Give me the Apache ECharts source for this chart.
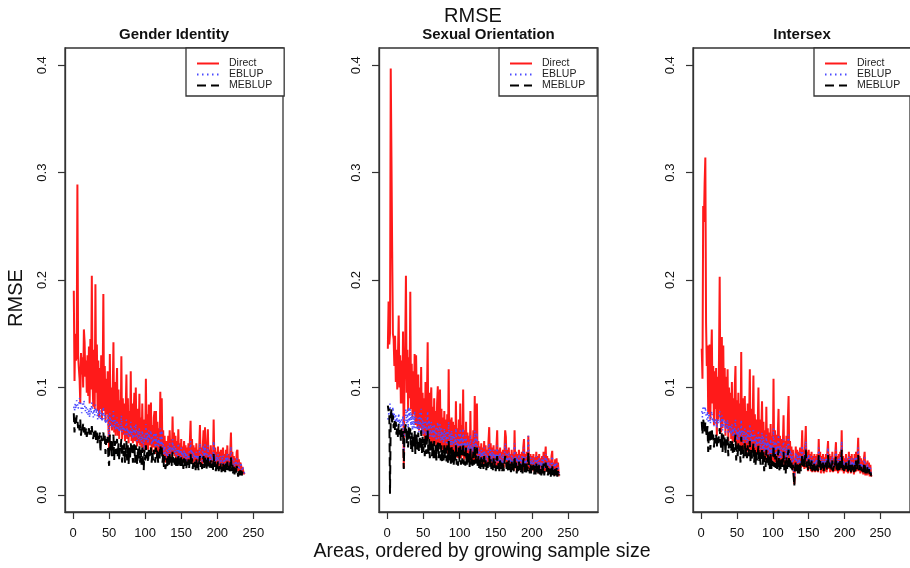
<!DOCTYPE html>
<html><head><meta charset="utf-8">
<script src="https://cdn.jsdelivr.net/npm/echarts@6/dist/echarts.min.js"></script>
<style>html,body{margin:0;padding:0;background:#fff}#c{width:910px;height:568px}</style>
</head><body><div id="c"></div>
<script>
// Areas 1..238, ordered by growing sample size
const areaCount = 238;
const areas = Array.from({length: areaCount}, (_, k) => k + 1);
const panelTitles = ['Gender Identity', 'Sexual Orientation', 'Intersex'];
const seriesNames = ['Direct', 'EBLUP', 'MEBLUP'];
const xTicks = [0, 50, 100, 150, 200, 250];
const yTicks = [0, 0.1, 0.2, 0.3, 0.4];

// RMSE values in thousandths
const giDirect = [
190,106,150,125,130,289,130,118,108,85,132,112,128,100,154,142,110,125,95,130,
92,138,85,145,98,204,105,82,135,80,196,95,140,78,125,72,118,80,130,70,
100,187,78,120,68,108,75,115,65,40,131,64,100,60,95,142,58,105,55,92,
118,55,98,52,88,60,129,52,90,56,85,50,80,112,52,90,48,78,54,115,
50,85,48,75,95,50,100,52,45,80,48,94,46,72,44,85,46,40,70,45,
108,44,75,42,84,46,70,86,40,65,44,72,78,38,78,42,68,40,62,40,
96,42,90,40,60,36,55,30,34,50,32,55,36,60,38,52,34,73,38,58,
36,55,33,50,32,61,35,48,30,52,33,45,30,50,32,46,29,44,31,48,
30,50,69,33,52,29,46,31,44,28,48,30,42,28,45,65,31,44,28,46,
60,30,63,33,28,45,61,29,42,27,46,30,40,27,70,31,44,26,40,29,
45,26,40,28,42,25,38,44,26,38,25,42,28,46,25,38,25,40,58,27,
40,25,36,24,34,25,40,42,22,33,22,30,28,20,26,22,20,19];
const giEblup = [
82,78,85,80,88,86,80,84,90,91,82,76,85,80,88,84,78,82,76,80,
74,80,72,82,76,86,78,72,80,74,84,76,80,70,78,72,80,70,78,68,
74,82,70,76,66,72,68,74,64,50,76,66,70,62,68,78,62,70,60,66,
72,60,66,58,64,60,74,58,64,60,62,56,62,70,56,62,54,60,56,68,
55,62,52,58,64,54,66,56,50,60,52,62,50,56,48,60,52,42,56,50,
66,50,58,48,60,52,56,60,46,54,48,56,58,44,58,46,54,45,52,44,
62,46,60,44,48,38,46,34,36,42,34,46,38,48,40,44,36,52,40,46,
38,44,36,42,34,48,38,42,33,44,36,40,32,42,34,40,31,38,34,40,
33,42,50,36,42,32,40,34,38,31,40,33,37,30,38,48,34,38,31,40,
46,33,47,36,31,38,46,32,37,30,39,33,36,29,50,34,38,30,36,32,
38,29,35,31,36,28,34,37,29,34,28,36,31,38,29,33,28,35,45,30,
34,28,32,26,30,28,34,35,25,30,24,28,30,23,26,24,21,20];
const giMeblup = [
76,58,72,66,74,70,62,66,60,70,55,64,60,66,58,63,56,62,54,60,
58,62,54,60,56,64,55,52,60,54,62,50,58,48,56,52,58,40,55,50,
54,58,50,55,38,52,48,54,34,27,56,40,50,36,48,56,32,50,38,48,
52,36,48,32,46,44,52,30,46,36,48,30,44,50,32,46,28,44,34,48,
40,46,30,42,48,30,46,36,28,44,32,46,30,42,28,44,32,23,42,32,
46,34,42,30,44,36,42,44,30,40,32,42,43,30,44,34,42,30,40,33,
46,38,44,30,38,26,36,24,28,34,25,36,28,38,30,35,27,40,30,36,
28,35,27,34,25,38,28,34,25,35,27,33,24,34,26,33,24,31,26,33,
25,34,38,27,34,24,32,26,31,23,33,25,30,23,31,36,26,31,24,33,
36,25,36,27,23,31,36,24,30,23,32,25,29,22,38,26,31,22,29,24,
31,22,29,24,29,21,28,30,22,28,21,29,23,31,22,27,20,28,35,22,
28,20,26,19,25,20,27,28,17,24,18,23,25,18,22,19,18,19];

const soDirect = [
136,180,140,150,397,314,226,150,145,120,148,105,135,98,130,167,100,130,85,125,
85,152,25,105,140,204,95,135,78,128,90,189,80,122,72,115,75,131,65,130,
90,62,112,60,100,62,119,58,95,55,90,52,105,50,88,142,52,95,48,85,
100,48,82,46,90,48,78,45,85,101,44,75,98,42,80,42,72,40,78,42,
70,40,75,38,117,40,70,38,72,38,68,36,65,36,87,35,62,34,70,36,
85,34,65,36,98,33,60,34,68,32,58,34,55,30,78,33,52,30,60,32,
92,34,56,85,30,50,28,45,26,48,28,44,27,50,29,46,26,42,28,50,
63,28,48,27,44,26,46,27,42,25,45,60,26,42,24,44,25,40,24,42,
25,40,60,54,26,42,24,44,25,38,23,42,25,38,23,60,25,40,22,38,
24,42,23,38,23,40,22,44,52,23,38,22,40,24,55,28,22,38,21,36,
23,38,22,35,21,40,23,36,20,38,22,34,20,36,21,40,21,35,45,22,
36,21,34,22,32,20,36,41,19,30,20,33,18,34,19,30,18,18];
const soEblup = [
70,74,80,85,72,78,68,82,70,76,66,74,68,72,64,76,66,70,62,72,
64,74,40,66,72,80,66,78,62,82,68,80,64,76,60,74,62,78,58,72,
66,60,72,58,76,62,80,58,70,56,68,58,72,55,66,78,56,70,54,64,
68,54,64,52,66,54,62,50,64,68,52,60,66,50,62,50,58,48,62,52,
58,48,60,46,68,48,58,46,60,46,56,44,54,46,62,44,52,42,58,46,
60,42,54,44,62,42,52,40,56,40,50,42,48,38,56,40,46,38,50,40,
60,40,48,58,36,44,32,40,30,42,33,40,31,44,34,40,30,38,33,44,
48,33,42,31,40,30,42,32,38,29,40,46,31,38,28,40,30,36,28,38,
29,36,48,44,31,38,28,40,29,35,27,38,30,35,28,48,30,36,26,35,
29,38,27,35,28,36,26,40,44,28,35,26,36,29,55,33,27,35,25,33,
28,34,26,32,25,36,28,33,24,34,26,31,24,33,26,36,25,32,38,28,
33,24,31,26,29,23,32,36,22,28,23,30,21,31,22,27,21,20];
const soMeblup = [
83,78,80,1,72,80,66,74,62,70,60,68,56,64,54,66,56,62,50,62,
54,60,24,56,62,66,48,60,44,64,52,62,42,58,40,56,44,60,38,56,
52,42,58,40,55,42,60,38,54,40,52,36,56,38,50,60,36,52,34,48,
52,36,48,34,50,34,46,32,48,50,34,44,48,32,46,30,42,32,46,34,
44,31,46,30,50,32,44,29,46,30,42,28,40,30,46,28,40,27,44,30,
46,28,42,29,48,28,40,27,44,27,40,28,38,26,44,28,36,27,40,28,
46,29,38,44,27,36,25,34,24,35,26,33,24,36,26,32,23,31,25,34,
36,25,33,24,32,23,34,25,31,22,33,36,24,31,22,32,23,30,22,31,
22,30,36,34,24,31,22,32,23,29,21,31,23,29,21,36,23,30,20,29,
22,31,21,29,21,30,20,32,34,21,29,20,30,22,40,25,20,29,19,27,
21,28,19,27,19,29,21,27,18,28,19,26,18,27,19,29,18,26,30,21,
27,18,25,19,24,17,26,28,17,23,17,24,16,25,17,22,17,19];

const isDirect = [
136,108,269,254,290,314,160,120,139,75,130,140,70,125,154,85,120,65,115,80,
118,55,110,70,125,203,80,58,147,62,139,70,118,55,110,62,117,50,100,58,
95,52,105,48,90,50,100,120,46,88,45,95,48,85,42,133,45,90,42,80,
92,42,78,40,85,42,72,117,38,80,40,70,111,38,75,36,70,38,65,100,
38,70,36,62,87,35,68,34,60,32,82,35,62,32,58,30,66,30,55,32,
108,30,60,30,56,28,58,80,28,55,27,52,30,48,74,27,50,26,55,28,
70,92,30,50,27,45,25,42,22,10,28,45,25,42,24,40,22,44,25,40,
60,26,42,24,46,64,25,40,22,42,24,38,22,40,21,36,22,38,21,36,
22,38,21,52,25,40,20,36,22,38,20,35,22,38,21,40,50,24,38,21,
36,22,40,21,34,22,38,49,22,36,20,38,22,40,24,60,22,36,20,34,
22,38,21,34,20,40,22,36,20,38,22,34,19,38,21,40,22,36,53,22,
36,20,34,21,32,19,34,40,18,30,18,32,19,30,17,28,18,17];
const isEblup = [
78,72,83,80,76,82,74,70,78,68,76,72,66,74,78,68,72,64,70,66,
72,62,70,66,72,78,66,62,74,60,72,64,70,58,68,62,70,58,64,60,
64,56,66,55,62,54,64,70,52,60,50,62,54,60,50,70,52,60,48,58,
62,50,58,48,60,50,56,66,46,58,48,54,62,46,56,44,54,46,52,60,
44,54,42,50,58,42,54,40,50,38,56,42,50,38,48,36,52,36,46,38,
62,38,50,36,48,35,48,56,34,46,33,44,36,42,52,33,42,31,46,34,
50,56,36,42,33,39,30,36,26,14,33,40,30,38,28,36,27,40,30,36,
46,31,38,29,40,50,30,36,27,38,29,34,27,36,25,33,27,34,25,33,
27,34,26,44,30,36,25,33,27,34,25,32,27,34,25,36,44,29,34,26,
32,27,36,26,31,27,34,42,27,33,25,34,27,36,29,50,27,32,25,31,
27,34,25,31,24,36,27,32,24,34,27,31,24,34,25,36,27,32,44,27,
32,25,30,25,29,24,31,35,22,27,22,29,23,27,20,25,19,18];
const isMeblup = [
68,56,70,66,58,68,60,54,64,40,60,56,42,58,62,50,56,44,54,48,
56,44,54,48,56,62,50,44,58,40,56,46,54,38,52,46,54,36,48,44,
50,40,52,38,48,40,50,56,32,46,36,48,40,46,30,54,38,46,34,44,
48,36,44,34,46,36,42,50,30,44,34,40,48,30,42,28,40,32,38,46,
30,40,28,36,44,28,40,22,36,26,42,30,38,26,36,24,40,24,34,27,
46,26,38,25,36,24,36,42,22,34,23,33,26,31,40,23,32,20,35,24,
38,42,26,32,24,30,21,28,18,8,25,31,22,29,20,28,19,31,22,28,
38,27,33,25,35,42,26,32,23,33,25,30,23,32,22,29,23,30,22,29,
23,30,22,37,26,32,21,29,23,30,22,28,24,30,22,32,37,25,30,23,
28,23,32,22,27,24,30,36,23,29,21,30,23,32,25,42,23,28,21,27,
23,30,22,27,21,32,23,28,21,30,23,27,21,30,22,32,23,28,37,23,
28,22,26,22,25,21,27,30,20,24,20,26,21,24,19,22,18,18];

const panelData = [
  [giDirect, giEblup, giMeblup],
  [soDirect, soEblup, soMeblup],
  [isDirect, isEblup, isMeblup]
];

const FONT = '"Liberation Sans", Arial, Helvetica, sans-serif';
const gridLefts = [65, 379, 693];
const gridWidths = [218, 219, 218];
const legendLefts = [186, 499, 814];
const titleCenters = [174, 488.5, 802];

const styles = [
  {color: '#ff1a1a', width: 2, type: 'solid'},
  {color: '#4a4aff', width: 1.6, type: [1.5, 3.5]},
  {color: '#000000', width: 2, type: [9, 5]}
];

const grids = [], xAxes = [], yAxes = [], series = [], legends = [], titles = [];
titles.push({text: 'RMSE', left: 473, top: 16, textAlign: 'center', textVerticalAlign: 'middle', padding: 0,
  textStyle: {fontSize: 20, fontWeight: 'normal', color: '#111', fontFamily: FONT}});
titles.push({text: 'Areas, ordered by growing sample size', left: 482, top: 552, textAlign: 'center', textVerticalAlign: 'middle', padding: 0,
  textStyle: {fontSize: 19.5, fontWeight: 'normal', color: '#111', fontFamily: FONT}});

for (let p = 0; p < 3; p++) {
  grids.push({left: gridLefts[p], top: 48, width: gridWidths[p], height: 464, show: true,
    borderColor: '#333', borderWidth: 1.3, backgroundColor: 'transparent'});
  xAxes.push({type: 'value', gridIndex: p, min: -11.2, max: 291.2,
    axisLine: {show: true, onZero: false, lineStyle: {color: '#333', width: 1.3}},
    splitLine: {show: false},
    axisTick: {show: true, length: 7, customValues: xTicks, lineStyle: {color: '#333', width: 1.2}},
    axisLabel: {customValues: xTicks, margin: 15, fontSize: 13, color: '#111', fontFamily: FONT}});
  yAxes.push({type: 'value', gridIndex: p, min: -0.016, max: 0.416,
    axisLine: {show: true, onZero: false, lineStyle: {color: '#333', width: 1.3}},
    splitLine: {show: false},
    axisTick: {show: true, length: 7, customValues: yTicks, lineStyle: {color: '#333', width: 1.2}},
    axisLabel: {customValues: yTicks, rotate: 90, margin: 16, fontSize: 13, color: '#111', fontFamily: FONT,
      formatter: v => v.toFixed(1)}});
  titles.push({text: panelTitles[p], left: titleCenters[p], top: 35, textAlign: 'center', textVerticalAlign: 'middle', padding: 0,
    textStyle: {fontSize: 15, fontWeight: 'bold', color: '#111', fontFamily: FONT}});
  legends.push({orient: 'vertical', left: legendLefts[p], top: 48, data: seriesNames,
    itemWidth: 22, itemHeight: 12, itemGap: 0, padding: [10, 12, 5, 10],
    borderColor: '#333', borderWidth: 1.3, backgroundColor: '#fff', selectedMode: false,
    itemStyle: {color: 'transparent', borderColor: 'transparent', borderWidth: 0},
    textStyle: {fontSize: 10.5, color: '#222', fontFamily: FONT, padding: [0, 0, 0, 5]}});
  for (let s = 0; s < 3; s++) {
    const vals = panelData[p][s];
    series.push({type: 'line', name: seriesNames[s], xAxisIndex: p, yAxisIndex: p,
      showSymbol: false, symbol: 'none', silent: true, animation: false,
      lineStyle: {color: styles[s].color, width: styles[s].width, type: styles[s].type},
      itemStyle: {color: styles[s].color},
      data: areas.map((a, k) => [a, vals[k] / 1000])});
  }
}

const chart = echarts.init(document.getElementById('c'), null, {renderer: 'canvas'});
chart.setOption({
  backgroundColor: '#fff',
  animation: false,
  title: titles,
  grid: grids,
  xAxis: xAxes,
  yAxis: yAxes,
  legend: legends,
  series: series,
  graphic: [{type: 'text', x: 16, y: 298, rotation: Math.PI / 2,
    style: {text: 'RMSE', font: '20px ' + FONT, fill: '#111', align: 'center', verticalAlign: 'middle'}}]
});
</script></body></html>
